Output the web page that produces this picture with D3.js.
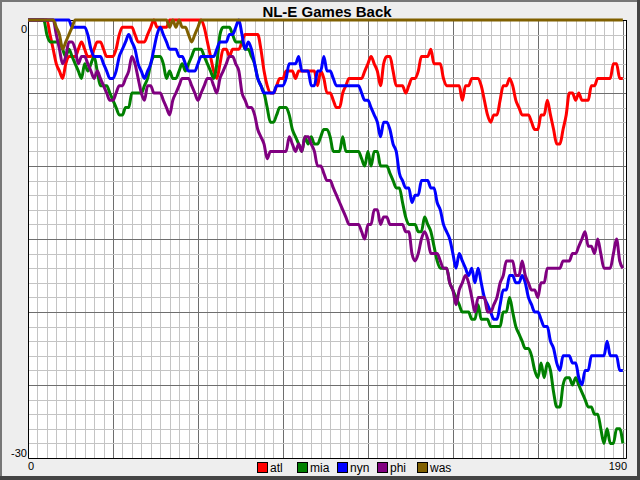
<!DOCTYPE html>
<html><head><meta charset="utf-8">
<script src="https://cdn.jsdelivr.net/npm/d3@7/dist/d3.min.js"></script>
<style>html,body{margin:0;padding:0;background:#eeeeee;}svg{display:block;}</style>
</head><body>
<script>
const title = "NL-E Games Back";
const teams = ["atl","mia","nyn","phi","was"];
const colors = ["#ff0000","#008000","#0000ff","#800080","#806000"];
const xTickLabels = ["0","190"];
const yTickLabels = ["0","-30"];

const atl = [0,0,0,0,0,0,0,
-1,-2,-3,-3.5,-4,
-3,-2.5,-2.5,-2.5,-2,-1.5,-2,-2.5,-2.5,
-2,-1.5,-1.5,-2,-2.5,-2.5,-2.5,-2,-1,-0.5,
-0.5,-0.5,-0.5,-1,-1.5,-1.5,-1.5,-1,-0.5,0,
-0.5,-0.5,-0.5,-0.5,0,0,0,0,0,0,
0,0,0,0,0,-0.5,-1.5,-2.5,-3.5,-4,
-3,-2,-2,-2.5,-2,-2,-2,-1.5,-1,-1,
-1,-1,-1,-2,-3.5,-4.5,-5,-5,-4.5,-4,
-4,-3.5,-3.5,-3.5,-4,-3.5,-3.5,-3.5,-3.5,-3.5,
-3.5,-4.5,-3.5,-4,-5,-5,-5.5,-6,-6,-5,
-4.5,-4,-4,-4,-4,-4,-3.5,-3,-2.5,-3,
-3.5,-4.5,-3,-2.5,-2.5,-3.5,-4.5,-4.5,-4.5,-5,
-4.5,-4,-4,-3.5,-2.5,-2.5,-2.5,-2,-3,-3,
-3,-4,-4.5,-4.5,-4.5,-4.5,-4.5,-5.5,-4.5,-4.5,
-4,-4,-4,-4.5,-5.5,-6.5,-7,-6.5,-6.5,-5.5,
-4.5,-4.5,-4,-4.5,-5.5,-6,-6.5,-6.5,-6.5,-7,
-7.5,-7.5,-6.5,-6.5,-5.5,-6.5,-7.5,-8.5,-8.5,-7.5,
-6.5,-5,-5,-5.5,-5,-5.5,-5.5,-5.5,-4.5,-4.5,
-4,-4,-4,-4,-4,-3,-3,-4,-4];

const mia = [0,0,0,0,0,0,
-1,-1.5,-1.5,-1.5,-1.5,
-2,-2.5,-2,-2.5,-3,-3.5,-4,-3,-3.5,-3,
-2.5,-3.5,-4.5,-4.5,-4.5,-5,-5.5,-6,-6.5,-6.5,
-6,-6,-5,-5,-5,-5,-4.5,-4,-3,-2.5,
-2.5,-2.5,-3,-4,-3.5,-4,-4,-3.5,-3,-3.5,
-3,-2.5,-2,-2,-2,-2.5,-3,-3.5,-4,-3,
-1,-0.5,-0.5,-0.5,-1,-1.5,-1.5,-1.5,-2,-2,
-2.5,-3,-4,-4.5,-5,-6,-7,-7,-6.5,-6,
-6,-6,-6.5,-7.5,-8,-8.5,-9,-8,-8.5,-8,
-8.5,-8.5,-8,-7.5,-7.5,-8,-9,-9,-9,-8,
-9,-9,-9,-9,-9,-9.5,-10,-9,-10,-9,
-9,-10,-10,-10,-10.5,-11,-11.5,-11.5,-12.5,-13.5,
-14,-14,-14,-14.5,-14.5,-13.5,-14,-14.5,-15.5,-16.5,
-17,-17,-17,-18,-18.5,-19,-19.5,-20,-20,-20,
-20.5,-20.5,-19.5,-20.5,-20.5,-20.5,-21,-21,-21,-21,
-20,-20,-19,-20,-21,-21.5,-22,-22.5,-22.5,-23,
-24,-24.5,-23.5,-24.5,-23.5,-24,-25.5,-26.5,-26.5,-25,
-24.5,-24.5,-25,-24.5,-25,-25.5,-26,-26.5,-26.5,-27,
-27,-28,-29,-28,-29,-29,-28,-28,-29];

const nyn = [0,0,0,0,0,0,0,0,0,0,0,0,0,0,
-0.5,-0.5,-0.5,-0.5,-0.5,-1,-2,
-2.5,-2.5,-2.5,-3,-3.5,-4,-4,-3.5,-2.5,-2,
-1.5,-1,-1.5,-2,-3,-3.5,-4,-3.5,-3,-2,
-1,-0.5,-1,-1.5,-2,-2,-2,-2.5,-2.5,-3,
-3.5,-3.5,-3.5,-3,-2.5,-2.5,-2.5,-2.5,-2.5,-2,
-1.5,-1.5,-1.5,-1,-1,-0.5,0,-1,-2,-1.5,
-2,-3,-4,-4.5,-5,-5,-5,-5,-4.5,-4.5,
-4.5,-4,-3,-3,-3,-2.5,-3.5,-3.5,-3.5,-4.5,
-4.5,-3.5,-3.5,-2.5,-3.5,-3.5,-4,-4.5,-4.5,-4.5,
-4.5,-4.5,-4.5,-4.5,-4.5,-5,-5.5,-5.5,-6,-6.5,
-7,-8,-7,-7,-7.5,-8.5,-9,-10.5,-11,-11.5,
-11.5,-12.5,-12,-12,-11,-11,-11,-11.5,-11.5,-12.5,
-13,-14,-14.5,-15,-16,-17,-16,-16.5,-17,-17.5,
-17,-18,-17,-18,-19,-19.5,-20,-20.5,-20.5,-19.5,
-18.5,-18.5,-17.5,-17.5,-18,-18,-17.5,-18,-19,-19.5,
-20,-20,-20.5,-21,-21,-22,-22.5,-23.5,-24,-23,
-23,-23,-23.5,-23.5,-24.5,-25,-24,-24,-23,-23,
-23,-23,-23,-22,-23,-23,-23,-24,-24];

const phi = [0,0,0,0,0,0,0,0,0,
-1,-2,
-3,-2.5,-1.5,-1.5,-2,-3,-2.5,-2.5,-3,-3.5,
-4,-3.5,-4,-4.5,-5,-5.5,-5.5,-5,-4.5,-4.5,
-4,-3.5,-2.5,-3,-4,-5,-5.5,-4.5,-4.5,-5,
-5,-5,-5.5,-6,-6.5,-5.5,-5,-4.5,-4,-4,
-4,-4.5,-5,-5.5,-5,-4.5,-4,-4,-4.5,-5,
-4,-3.5,-3,-2.5,-2.5,-3,-3.5,-5,-5.5,-6,
-6,-6.5,-7.5,-8,-8.5,-9.5,-9,-9,-9,-9,
-9,-9,-8,-8.5,-9,-8.5,-9,-8,-8,-8.5,
-9,-10,-10,-10.5,-11,-11,-11.5,-12,-12.5,-13,
-13.5,-14,-14,-14,-14,-14.5,-15,-14,-14,-13,
-13,-14,-13.5,-13.5,-14,-14,-14,-14,-14,-14.5,
-14.5,-16,-16.5,-16,-15,-14.5,-15,-16,-16,-16,
-16.5,-17,-17,-18,-18.5,-19.5,-18.5,-18,-17.5,-18,
-19,-20,-19,-19,-19,-20,-20,-19.5,-19,-18,
-17.5,-16.5,-16.5,-16.5,-17.5,-17.5,-16.5,-17.5,-18,-18.5,
-18.5,-19,-18,-18,-17,-17,-17,-17,-17,-16.5,
-16.5,-16.5,-16,-16,-15.5,-15,-14.5,-15.5,-15.5,-16,
-15,-16,-17,-17,-17,-16,-15,-16.5,-17];

const was = [0,0,0,0,0,0,0,0,0,
-0.5,-1,-2,-1.5,-1,-0.5,
0,0,0,0,0,0,0,0,0,0,0,0,0,0,0,0,0,0,0,0,0,0,0,0,0,0,0,0,0,0,
-0.5,0,-0.5,0,-0.5,-0.5,-1,-1.5,-1,-0.5,
0,0,0,0,0,0,0,0,0,0,0,0,0,0,0,0,0,0,0,0,
0,0,0,0,0,0,0,0,0,0,0,0,0,0,0,0,0,0,0,0,
0,0,0,0,0,0,0,0,0,0,0,0,0,0,0,0,0,0,0,0,
0,0,0,0,0,0,0,0,0,0,0,0,0,0,0,0,0,0,0,0,
0,0,0,0,0,0,0,0,0,0,0,0,0,0,0,0,0,0,0,0,
0,0,0,0,0,0,0,0,0,0,0,0,0,0,0,0,0,0,0,0,
0,0,0,0,0,0,0,0,0,0,0,0,0,0,0];

const seriesValues = [atl, mia, nyn, phi, was];

const W = 640, H = 480;
const svg = d3.select("body").append("svg").attr("width", W).attr("height", H);

// background & frame
svg.append("rect").attr("width", W).attr("height", H).attr("fill", "#eeeeee");
svg.append("rect").attr("x", 1).attr("y", 1).attr("width", W - 3).attr("height", H - 3)
  .attr("fill", "none").attr("stroke", "#777777").attr("stroke-width", 2);
svg.append("line").attr("x1", W - 1.5).attr("x2", W - 1.5).attr("y1", 0).attr("y2", H).attr("stroke", "#444").attr("stroke-width", 3);
svg.append("line").attr("x1", 0).attr("x2", W).attr("y1", H - 2).attr("y2", H - 2).attr("stroke", "#444").attr("stroke-width", 4);

const x = d3.scaleLinear().domain([0, 190]).range([28, 626]);
const y = d3.scaleLinear().domain([-30, 0]).range([458, 20]);

const px = v => Math.round(v) + 0.5;

const plot = svg.append("g");
plot.append("rect").attr("x", x(0)).attr("y", y(0)).attr("width", x(190) - x(0)).attr("height", y(-30) - y(0)).attr("fill", "#ffffff");

// grid
const xMinor = d3.range(3, 190, 3);
const yMinor = d3.range(-29, 0, 1);
plot.selectAll(".vx").data(xMinor).enter().append("line")
  .attr("x1", d => px(x(d))).attr("x2", d => px(x(d)))
  .attr("y1", y(0)).attr("y2", y(-30))
  .attr("stroke", d => d % 27 === 0 ? "#6e6e6e" : "#c4c4c4").attr("stroke-width", 1);
plot.selectAll(".hy").data(yMinor).enter().append("line")
  .attr("y1", d => px(y(d))).attr("y2", d => px(y(d)))
  .attr("x1", x(0)).attr("x2", x(190))
  .attr("stroke", d => d % 5 === 0 ? "#6e6e6e" : "#c4c4c4").attr("stroke-width", 1);

// axes frame
plot.append("line").attr("x1", px(x(0))).attr("x2", px(x(0))).attr("y1", y(0)).attr("y2", px(y(-30))).attr("stroke", "#000");
plot.append("line").attr("x1", px(x(0))).attr("x2", px(x(190))).attr("y1", px(y(-30))).attr("y2", px(y(-30))).attr("stroke", "#000");
plot.append("line").attr("x1", px(x(190))).attr("x2", px(x(190))).attr("y1", y(0)).attr("y2", px(y(-30))).attr("stroke", "#000");
plot.append("line").attr("x1", px(x(0))).attr("x2", px(x(190))).attr("y1", px(y(0))).attr("y2", px(y(0))).attr("stroke", "#000");

// lines
const line = d3.line().x((d, i) => x(i)).y(d => y(d)).curve(d3.curveMonotoneX);
seriesValues.forEach((vals, k) => {
  plot.append("path").datum(vals).attr("d", line)
    .attr("fill", "none").attr("stroke", colors[k]).attr("stroke-width", 3)
    .attr("stroke-linejoin", "round").attr("stroke-linecap", "butt");
});

// texts
const font = "'Liberation Sans', Arial, sans-serif";
svg.append("text").attr("x", (x(0) + x(190)) / 2).attr("y", 17).attr("text-anchor", "middle")
  .attr("font-family", font).attr("font-size", 15).attr("font-weight", "bold").attr("fill", "#000").text(title);

svg.append("text").attr("x", 27).attr("y", 33).attr("text-anchor", "end")
  .attr("font-family", font).attr("font-size", 11).text(yTickLabels[0]);
svg.append("text").attr("x", 27).attr("y", 457).attr("text-anchor", "end")
  .attr("font-family", font).attr("font-size", 11).text(yTickLabels[1]);
svg.append("text").attr("x", 28).attr("y", 470).attr("text-anchor", "start")
  .attr("font-family", font).attr("font-size", 11).text(xTickLabels[0]);
svg.append("text").attr("x", 627).attr("y", 470).attr("text-anchor", "end")
  .attr("font-family", font).attr("font-size", 11).text(xTickLabels[1]);

// legend
const lg = svg.append("g");
teams.forEach((t, k) => {
  const lx = 257 + k * 40;
  lg.append("rect").attr("x", lx + 0.5).attr("y", 462.5).attr("width", 10).attr("height", 10)
    .attr("fill", colors[k]).attr("stroke", "#000").attr("stroke-width", 1);
  lg.append("text").attr("x", lx + 13).attr("y", 472).attr("font-family", font).attr("font-size", 12).text(t);
});
</script>
</body></html>
